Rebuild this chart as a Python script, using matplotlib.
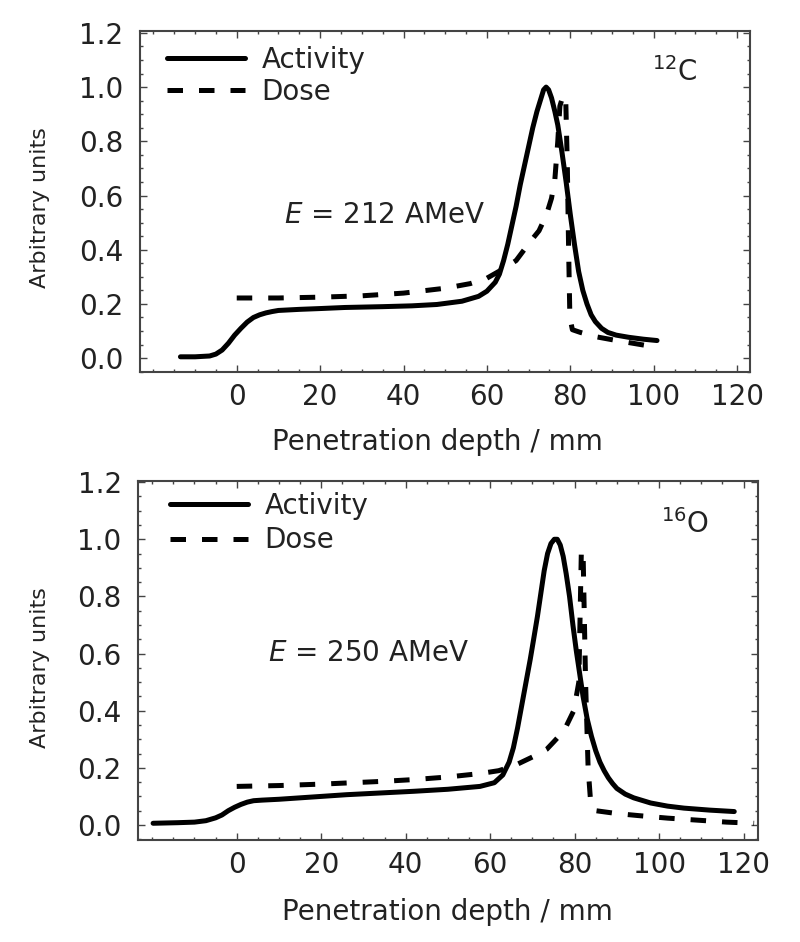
import matplotlib
matplotlib.use("Agg")
import matplotlib.pyplot as plt
from matplotlib.ticker import MultipleLocator, FixedLocator, FormatStrFormatter

plt.rcParams['font.family'] = ['DejaVu Sans']
plt.rcParams['mathtext.fontset'] = 'dejavusans'

# ---------------- data: 12C, E = 212 AMeV ----------------
c_act_x = [-13.5, -10, -6.5, -5, -3.5, -2, -0.5, 1, 2.5, 4, 5.5, 7, 8.5, 10, 15, 20, 26,
           35, 42, 48, 54, 58, 60, 62, 63, 64, 65, 66, 67, 68, 69, 70, 71, 72, 73, 73.6,
           74.2, 74.8, 75.5, 76.3, 77, 78, 79, 80, 81, 82, 83, 84, 85, 86, 87.5, 89, 91,
           94, 97.5, 100.8]
c_act_y = [0.005, 0.005, 0.008, 0.015, 0.03, 0.055, 0.085, 0.11, 0.133, 0.15, 0.16,
           0.167, 0.172, 0.176, 0.180, 0.183, 0.187, 0.190, 0.193, 0.198, 0.21, 0.228,
           0.247, 0.28, 0.31, 0.36, 0.42, 0.49, 0.56, 0.64, 0.71, 0.78, 0.85, 0.91, 0.96,
           0.99, 1.0, 0.99, 0.96, 0.91, 0.86, 0.76, 0.65, 0.53, 0.42, 0.32, 0.25, 0.2,
           0.16, 0.135, 0.11, 0.095, 0.085, 0.077, 0.07, 0.065]

c_dose_x = [0, 10, 20, 30, 40, 50, 56, 60, 64, 67, 70.4, 72.5, 74.3, 75.5, 76.3, 77.0,
            77.5, 78.3, 78.9, 79.3, 79.6, 79.9, 80.5, 82.4, 86.5, 91.1, 95, 98.5]
c_dose_y = [0.222, 0.222, 0.225, 0.23, 0.24, 0.258, 0.275, 0.295, 0.33, 0.36, 0.43,
            0.47, 0.53, 0.59, 0.66, 0.8, 0.93, 0.97, 0.96, 0.7, 0.4, 0.15, 0.105,
            0.095, 0.078, 0.065, 0.055, 0.046]

# ---------------- data: 16O, E = 250 AMeV ----------------
o_act_x = [-19.8, -14, -10, -7.3, -5, -3.5, -2, -0.5, 1, 2.5, 4, 6, 10, 18, 26, 34, 42,
           50, 57.6, 61, 63, 64.5, 65.5, 66.5, 67.5, 68.5, 69.5, 70.3, 71.2, 72, 72.8,
           73.6, 74.4, 75.2, 75.9, 76.6, 77.3, 78, 78.8, 79.6, 80.4, 81.2, 82, 83, 84,
           85, 86, 87, 88, 89, 90, 92, 94, 98, 102, 105.9, 112, 117.8]
o_act_y = [0.006, 0.008, 0.01, 0.015, 0.025, 0.035, 0.05, 0.062, 0.072, 0.08, 0.085,
           0.087, 0.09, 0.098, 0.106, 0.112, 0.118, 0.125, 0.135, 0.148, 0.175, 0.22,
           0.27, 0.34, 0.42, 0.50, 0.58, 0.65, 0.73, 0.81, 0.89, 0.95, 0.985, 1.0, 1.0,
           0.98, 0.94, 0.88, 0.80, 0.70, 0.61, 0.53, 0.45, 0.37, 0.31, 0.26, 0.22, 0.19,
           0.165, 0.145, 0.128, 0.108, 0.095, 0.077, 0.066, 0.059, 0.052, 0.047]

o_dose_x = [0, 10, 20, 26, 35, 42, 50, 57.6, 62, 65.5, 70.3, 73.4, 75, 77.5, 79.8,
            81.0, 81.6, 82.0, 82.6, 83.2, 83.8, 85, 90, 95, 102, 110, 116, 122.5]
o_dose_y = [0.135, 0.138, 0.143, 0.147, 0.153, 0.159, 0.168, 0.18, 0.19, 0.206, 0.24,
            0.265, 0.29, 0.33, 0.40, 0.50, 0.96, 0.96, 0.5, 0.2, 0.08, 0.05, 0.04,
            0.033, 0.024, 0.016, 0.01, 0.006]

x_ticks = [0, 20, 40, 60, 80, 100, 120]

panels = [
    dict(act=(c_act_x, c_act_y), dose=(c_dose_x, c_dose_y), ion=r"$^{12}$C",
         energy=r"$E$ = 212 AMeV"),
    dict(act=(o_act_x, o_act_y), dose=(o_dose_x, o_dose_y), ion=r"$^{16}$O",
         energy=r"$E$ = 250 AMeV"),
]

TXT = '#222222'
SPINE = '#444444'
FS = 20

fig = plt.figure(figsize=(8, 9.42), dpi=100)
rects = [[0.175, 0.6054, 0.7625, 0.362], [0.1729, 0.1083, 0.775, 0.3814]]
ylims = [(-0.05, 1.208), (-0.0525, 1.205)]
xlims = [(-23.2, 123.1), (-23.3, 123.5)]
leg_anchor = [(0.044, 0.956), (0.051, 0.9685)]
leg_space = [0.14, 0.23]
ion_pos = [(0.877, 0.88), (0.882, 0.88)]
en_pos = [(0.40, 0.46), (0.372, 0.52)]
xlab_pos = [(0.487, -0.165), (0.499, -0.161)]
ylab_x = [(50 - 140) / 610, (50 - 138.3) / 620]

for i, p in enumerate(panels):
    ax = fig.add_axes(rects[i])
    ax.plot(*p['act'], color='black', lw=3.6, solid_capstyle='round',
            solid_joinstyle='round', label='Activity')
    ax.plot(*p['dose'], color='black', lw=3.6, dashes=(3.1, 3.2),
            label='Dose')
    ax.set_xlim(*xlims[i])
    ax.set_ylim(*ylims[i])
    ax.xaxis.set_major_locator(FixedLocator(x_ticks))
    ax.xaxis.set_minor_locator(MultipleLocator(5))
    ax.yaxis.set_major_locator(MultipleLocator(0.2))
    ax.yaxis.set_minor_locator(MultipleLocator(0.05))
    ax.yaxis.set_major_formatter(FormatStrFormatter('%.1f'))
    ax.tick_params(which='both', direction='in', top=True, right=True,
                   color=SPINE, width=1.0, labelcolor=TXT, labelsize=FS)
    ax.tick_params(which='major', length=5)
    ax.tick_params(which='minor', length=2.5)
    ax.tick_params(axis='x', pad=8)
    ax.tick_params(axis='y', pad=12)
    for s in ax.spines.values():
        s.set_color(SPINE)
        s.set_linewidth(1.5)
    ax.set_xlabel('Penetration depth / mm', fontsize=FS, color=TXT)
    ax.xaxis.set_label_coords(*xlab_pos[i])
    ax.set_ylabel('Arbitrary units', fontsize=16, color=TXT)
    ax.yaxis.set_label_coords(ylab_x[i], 0.48)
    ax.legend(loc='upper left', bbox_to_anchor=leg_anchor[i], frameon=False,
              fontsize=FS, handlelength=2.8, handletextpad=0.6,
              labelspacing=leg_space[i], borderpad=0, borderaxespad=0,
              labelcolor=TXT)
    ax.text(*ion_pos[i], p['ion'], transform=ax.transAxes, fontsize=FS,
            color=TXT, ha='center', va='center')
    ax.text(*en_pos[i], p['energy'], transform=ax.transAxes, fontsize=FS,
            color=TXT, ha='center', va='center')

fig.savefig('out.png', dpi=100)
